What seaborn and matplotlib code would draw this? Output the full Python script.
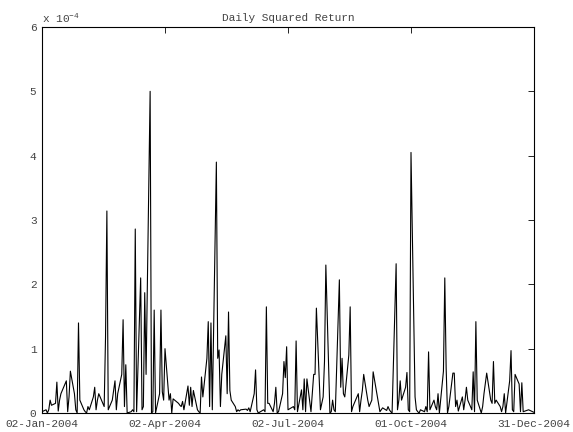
import numpy as np
import pandas as pd
import matplotlib
matplotlib.use("Agg")
import matplotlib.pyplot as plt
import matplotlib.dates as mdates
from matplotlib.ticker import FuncFormatter
import seaborn as sns

# Daily squared returns in units of 1e-4
seg1 = [0.02, 0.05, 0.0, 0.05, 0.2, 0.12, 0.15, 0.48, 0.03, 0.2,
        0.3, 0.5, 0.02, 0.25, 0.65, 0.3, 0.05, 0.0, 1.4, 0.2,
        0.05, 0.02, 0.0, 0.1, 0.05, 0.25, 0.4, 0.05, 0.2, 0.3,
        0.1, 1.18, 3.14]
seg2 = [0.05, 0.2, 0.35, 0.5, 0.05, 0.3, 0.6, 1.45, 0.1, 0.75,
        0.0, 0.02, 0.05, 0.02, 2.86, 0.02, 2.1, 0.05, 0.1, 1.87,
        0.6, 5.0, 0.0, 0.02, 1.6, 0.0, 0.3, 1.6, 0.33, 0.2,
        1.0, 0.2, 0.3, 0.0, 0.22, 0.15, 0.12, 0.1, 0.18, 0.05,
        0.42, 0.12, 0.4, 0.1, 0.35, 0.05, 0.02, 0.0, 0.56, 0.25, 0.85]
seg3 = [1.42, 0.1, 1.4, 0.05, 3.9, 0.85, 0.98, 0.1, 0.6, 1.2,
        0.3, 1.57, 0.35, 0.2, 0.1, 0.02, 0.05, 0.03, 0.05, 0.06,
        0.04, 0.08, 0.02, 0.3, 0.67, 0.05, 0.0, 0.05, 0.02, 1.65,
        0.15, 0.15, 0.02, 0.15, 0.4, 0.0, 0.02, 0.3, 0.8, 0.55, 1.03]
seg4 = [0.05, 0.1, 0.05, 1.12, 0.02, 0.36, 0.05, 0.53, 0.02, 0.53,
        0.02, 0.3, 0.6, 0.6, 1.63, 0.05, 0.15, 0.25, 0.8, 2.3,
        0.0, 0.02, 0.2, 0.05, 0.02, 2.07, 0.4, 0.85, 0.3, 0.25,
        0.9, 1.65, 0.02, 0.1, 0.15, 0.3, 0.02, 0.2, 0.35, 0.6, 0.2, 0.1, 0.15]
seg5 = [0.2, 0.64, 0.15, 0.02, 0.05, 0.08, 0.04, 0.1, 0.05, 0.02,
        0.0, 2.32, 0.05, 0.2, 0.5, 0.2, 0.4, 0.63, 0.05, 0.02,
        4.05, 0.25, 0.05, 0.02, 0.0, 0.05, 0.02, 0.1, 0.02, 0.95,
        0.05, 0.2, 0.1, 0.05, 0.3, 0.0, 0.65, 2.1, 0.7, 0.0, 0.1, 0.62]
seg6 = [0.62, 0.1, 0.2, 0.03, 0.25, 0.05, 0.2, 0.4, 0.2, 0.05,
        0.64, 0.02, 1.42, 0.2, 0.0, 0.1, 0.3, 0.62, 0.2, 0.15,
        0.8, 0.15, 0.2, 0.1, 0.02, 0.1, 0.3, 0.0, 0.5, 0.97,
        0.05, 0.02, 0.6, 0.45, 0.02, 0.47, 0.02, 0.05, 0.04, 0.03, 0.02, 0.01]
values_e4 = seg1 + seg2 + seg3 + seg4 + seg5 + seg6

holidays = ["2004-01-19", "2004-02-16", "2004-04-09", "2004-05-31", "2004-06-11",
            "2004-07-05", "2004-09-06", "2004-11-25", "2004-12-24"]
xtick_labels = ["02-Jan-2004", "02-Apr-2004", "02-Jul-2004", "01-Oct-2004", "31-Dec-2004"]
xtick_dates = ["2004-01-02", "2004-04-02", "2004-07-02", "2004-10-01", "2004-12-31"]
ytick_vals = [0, 1, 2, 3, 4, 5, 6]

dates = pd.bdate_range("2004-01-02", "2004-12-31")
dates = dates[~dates.isin(pd.to_datetime(holidays))]
n = min(len(dates), len(values_e4))
df = pd.DataFrame({"date": dates[:n], "sqret": np.array(values_e4[:n]) * 1e-4})

sns.set_style("white")
mono = ["Liberation Mono", "DejaVu Sans Mono"]
plt.rcParams["font.family"] = mono
plt.rcParams["mathtext.fontset"] = "custom"
plt.rcParams["mathtext.rm"] = "Liberation Mono"

fig = plt.figure(figsize=(5.73, 4.32), dpi=100, facecolor="white")
ax = fig.add_axes([42 / 573, 19 / 432, 492 / 573, 386 / 432])
sns.lineplot(data=df, x="date", y="sqret", ax=ax, color="black", linewidth=0.8)

ax.set_xlim(pd.Timestamp("2004-01-02"), pd.Timestamp("2004-12-31"))
ax.set_ylim(0, 6e-4)
ax.set_xticks(pd.to_datetime(xtick_dates))
ax.set_xticklabels(xtick_labels)
ax.set_yticks([v * 1e-4 for v in ytick_vals])
ax.yaxis.set_major_formatter(FuncFormatter(lambda y, p: f"{y / 1e-4:.0f}"))
ax.set_xlabel("")
ax.set_ylabel("")

for s in ax.spines.values():
    s.set_visible(True)
    s.set_color("black")
    s.set_linewidth(0.8)
ax.tick_params(direction="in", length=4, width=0.6, top=True, right=True,
               labelsize=8, colors="black", labelcolor="#444444", pad=4)
for lab in ax.get_xticklabels() + ax.get_yticklabels():
    lab.set_family(mono)

ax.set_title("Daily Squared Return", fontsize=8, color="#444444", family=mono, pad=4)
ax.text(0.0, 1.005, "x 10$^{-4}$", transform=ax.transAxes, fontsize=8,
        color="#444444", ha="left", va="bottom", family=mono)

fig.savefig("out.png", dpi=100, facecolor="white")
